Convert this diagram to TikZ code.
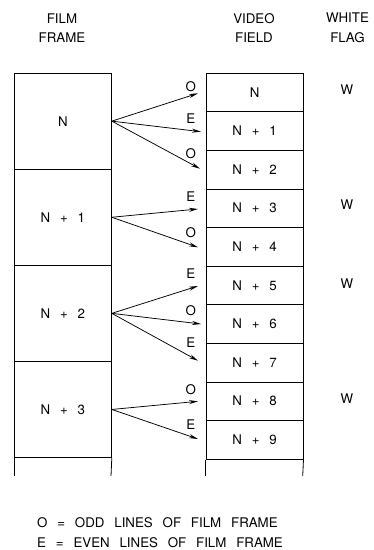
\documentclass[tikz,border=0pt]{standalone}
\usepackage{fontspec}
\setmainfont{TeX Gyre Heros}
\usetikzlibrary{arrows.meta}
\newcommand\np[1]{N + #1}
\newcommand\diagfont{\fontsize{13.3}{19.5}\selectfont\spaceskip=0.74em plus 0.1em\relax}
\begin{document}
\begin{tikzpicture}[x=1pt,y=-1pt,
  every node/.style={font=\diagfont},
  frame/.style={draw, line width=0.8pt, minimum width=97pt, minimum height=96.1pt, inner sep=0pt, anchor=north west},
  cell/.style={draw, line width=0.8pt, minimum width=97pt, minimum height=38.6pt, inner sep=0pt, anchor=north west},
  open/.style={line width=0.8pt},
  link/.style={line width=0.75pt, -{Stealth[length=9pt,width=4pt]}},
  lbl/.style={inner sep=0pt},
  head/.style={align=center, inner sep=0pt},
]
\useasboundingbox (0,0) rectangle (373,550);
% headings
\node[head] (h1) at (62,28) {FILM\\FRAME};
\node[head] (h2) at (254,28) {VIDEO\\FIELD};
\node[head] (h3) at (347.5,28) {WHITE\\FLAG};
% film frames
\node[frame] (f0) at (14,72.7) {N};
\node[frame] (f1) at (14,168.8) {\np{1}};
\node[frame] (f2) at (14,264.9) {\np{2}};
\node[frame] (f3) at (14,361) {\np{3}};
\coordinate (fa) at (14,476);
\coordinate (fb) at (111,476);
\draw[open] (f3.south west) -- (fa);
\draw[open] (f3.south east) -- (fb);
% video fields
\node[cell] (v0) at (205.7,72.7) {N};
\node[cell] (v1) at (205.7,111.3) {\np{1}};
\node[cell] (v2) at (205.7,149.9) {\np{2}};
\node[cell] (v3) at (205.7,188.5) {\np{3}};
\node[cell] (v4) at (205.7,227.1) {\np{4}};
\node[cell] (v5) at (205.7,265.7) {\np{5}};
\node[cell] (v6) at (205.7,304.3) {\np{6}};
\node[cell] (v7) at (205.7,342.9) {\np{7}};
\node[cell] (v8) at (205.7,381.5) {\np{8}};
\node[cell] (v9) at (205.7,420.1) {\np{9}};
\coordinate (va) at (205.7,476);
\coordinate (vb) at (302.7,476);
\draw[open] (v9.south west) -- (va);
\draw[open] (v9.south east) -- (vb);
% white flags
\node (w0) at (347,90) {W};
\node (w3) at (347,205) {W};
\node (w5) at (347,283.3) {W};
\node (w8) at (347,399) {W};
% arrow ends
\coordinate (e0) at (198,93.3);
\coordinate (e1) at (201,131.7);
\coordinate (e2) at (200,168.7);
\coordinate (e3) at (198,209);
\coordinate (e4) at (198,247.3);
\coordinate (e5) at (198,286);
\coordinate (e6) at (201,324);
\coordinate (e7) at (198,360.7);
\coordinate (e8) at (198,401.3);
\coordinate (e9) at (198,439);
% arrows
\draw[link] (f0.east) -- (e0);
\draw[link] (f0.east) -- (e1);
\draw[link] (f0.east) -- (e2);
\draw[link] (f1.east) -- (e3);
\draw[link] (f1.east) -- (e4);
\draw[link] (f2.east) -- (e5);
\draw[link] (f2.east) -- (e6);
\draw[link] (f2.east) -- (e7);
\draw[link] (f3.east) -- (e8);
\draw[link] (f3.east) -- (e9);
% O / E labels
\node[lbl] (l0) at (190.8,86.2) {O};
\node[lbl] (l1) at (190.8,118.3) {E};
\node[lbl] (l2) at (190.8,154) {O};
\node[lbl] (l3) at (190.8,196.7) {E};
\node[lbl] (l4) at (190.8,232.5) {O};
\node[lbl] (l5) at (190.8,273.3) {E};
\node[lbl] (l6) at (190.8,310.7) {O};
\node[lbl] (l7) at (190.8,342.3) {E};
\node[lbl] (l8) at (190.8,389.7) {O};
\node[lbl] (l9) at (190.8,424.2) {E};
% legend
\node[inner sep=0pt, anchor=west] (k1) at (37,522.5) {O = ODD LINES OF FILM FRAME};
\node[inner sep=0pt, anchor=west] (k2) at (37,542.5) {E = EVEN LINES OF FILM FRAME};
\end{tikzpicture}
\end{document}
